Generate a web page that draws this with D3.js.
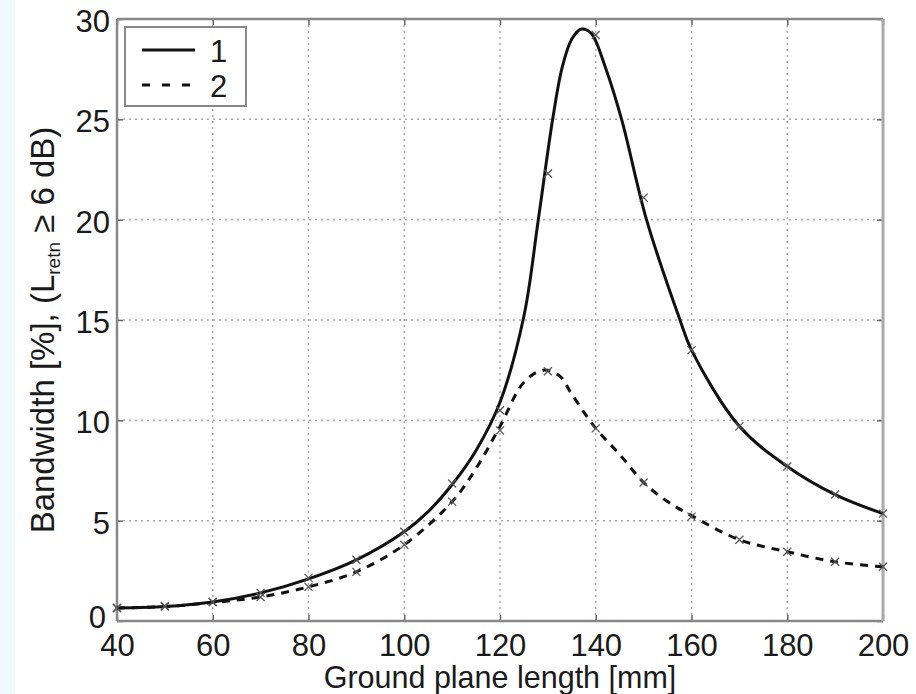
<!DOCTYPE html>
<html>
<head>
<meta charset="utf-8">
<script src="https://cdn.jsdelivr.net/npm/d3@7"></script>
<style>
  body { margin: 0; background: #fff; }
  svg { display: block; font-family: "Liberation Sans", Arial, sans-serif; }
</style>
</head>
<body>
<div id="container"></div>
<script>
// curve 1 (solid) and curve 2 (dashed)
const line1X = [40, 50, 60, 70, 80, 90, 100, 105, 110, 115, 120, 125, 128, 131, 133, 135, 137, 139, 142, 145.4, 150.6, 157.6, 160, 170, 180, 190, 200]
const line1Y = [0.65, 0.72, 0.95, 1.4, 2.1, 3.05, 4.45, 5.45, 6.8, 8.5, 10.9, 15.2, 20.0, 25.0, 27.6, 29.0, 29.5, 29.3, 27.6, 25.0, 20.0, 15.0, 13.5, 9.7, 7.7, 6.3, 5.35]
const line2X = [40, 50, 60, 70, 80, 90, 100, 110, 115, 120, 125, 129, 132.5, 135, 140, 145, 150, 155, 160, 170, 180, 190, 200]
const line2Y = [0.65, 0.72, 0.92, 1.2, 1.7, 2.45, 3.8, 5.95, 7.6, 9.7, 11.9, 12.5, 12.2, 11.3, 9.6, 8.3, 6.9, 5.95, 5.25, 4.05, 3.45, 2.95, 2.7]

// the x markers, every 10 mm
const markX = [40, 50, 60, 70, 80, 90, 100, 110, 120, 130, 140, 150, 160, 170, 180, 190, 200]
const mark1Y = [0.65, 0.72, 0.95, 1.4, 2.15, 3.05, 4.45, 6.85, 10.5, 22.3, 29.2, 21.1, 13.5, 9.7, 7.7, 6.3, 5.35]
const mark2Y = [0.65, 0.75, 0.95, 1.2, 1.7, 2.45, 3.8, 5.95, 9.5, 12.45, 9.6, 6.9, 5.2, 4.05, 3.45, 2.95, 2.7]

const xTicks = [40, 60, 80, 100, 120, 140, 160, 180, 200]
const yTicks = [0, 5, 10, 15, 20, 25, 30]
const legendLabels = ["1", "2"]

const W = 916, H = 694
const margin = { left: 117, right: 883, top: 19, bottom: 621 }

const x = d3.scaleLinear().domain([40, 200]).range([margin.left, margin.right])
const y = d3.scaleLinear().domain([0, 30]).range([margin.bottom, margin.top])

const svg = d3.select("#container").append("svg")
    .attr("width", W)
    .attr("height", H)

// pale strip on the left edge
svg.append("rect").attr("x", 0).attr("y", 0).attr("width", 15).attr("height", H).attr("fill", "#eefaff")

// grid
const grid = svg.append("g")
    .attr("stroke", "#aaa")
    .attr("stroke-width", 1.5)
    .attr("stroke-dasharray", "2,4")
grid.selectAll(".gx").data(xTicks.slice(1, -1)).join("line")
    .attr("x1", d => x(d)).attr("x2", d => x(d))
    .attr("y1", margin.top).attr("y2", margin.bottom)
grid.selectAll(".gy").data(yTicks.slice(1, -1)).join("line")
    .attr("x1", margin.left).attr("x2", margin.right)
    .attr("y1", d => y(d)).attr("y2", d => y(d))

// axes with inward ticks
const gxB = svg.append("g").attr("transform", `translate(0,${margin.bottom})`)
    .call(d3.axisBottom(x).tickValues(xTicks).tickSize(-6).tickPadding(13))
const gyL = svg.append("g").attr("transform", `translate(${margin.left},0)`)
    .call(d3.axisLeft(y).tickValues(yTicks).tickSize(-6).tickPadding(7))
const gxT = svg.append("g").attr("transform", `translate(0,${margin.top})`)
    .call(d3.axisTop(x).tickValues(xTicks).tickSize(-6).tickFormat(""))
const gyR = svg.append("g").attr("transform", `translate(${margin.right},0)`)
    .call(d3.axisRight(y).tickValues(yTicks).tickSize(-6).tickFormat(""))

for (const g of [gxB, gyL, gxT, gyR]) {
    g.select(".domain").remove()
    g.selectAll(".tick line").attr("stroke", "#666").attr("stroke-width", 1.5)
    g.selectAll("text").attr("font-size", 31).attr("fill", "#1a1a1a")
    g.attr("font-family", null).attr("font-size", null)
}
gyL.selectAll("text").attr("dy", "0.4em")
gyL.selectAll(".tick").filter(d => d === 0).select("text").attr("dy", "0.2em").attr("dx", -4)

// frame
const frame = [
    [margin.left, margin.top, margin.right, margin.top, "#888", 2.5],
    [margin.left, margin.bottom, margin.right, margin.bottom, "#888", 2.5],
    [margin.left, margin.top, margin.left, margin.bottom, "#888", 2.5],
    [margin.right, margin.top, margin.right, margin.bottom, "#aaa", 3]
]
svg.append("g").selectAll("line").data(frame).join("line")
    .attr("x1", d => d[0]).attr("y1", d => d[1])
    .attr("x2", d => d[2]).attr("y2", d => d[3])
    .attr("stroke", d => d[4]).attr("stroke-width", d => d[5])

// curves
const line = d3.line()
    .x(d => x(d[0]))
    .y(d => y(d[1]))
    .curve(d3.curveCatmullRom)

svg.append("path")
    .datum(line2X.map((d, i) => [d, line2Y[i]]))
    .attr("fill", "none")
    .attr("stroke", "#111")
    .attr("stroke-width", 3)
    .attr("stroke-dasharray", "8,7")
    .attr("d", line)

svg.append("path")
    .datum(line1X.map((d, i) => [d, line1Y[i]]))
    .attr("fill", "none")
    .attr("stroke", "#111")
    .attr("stroke-width", 3)
    .attr("d", line)

// x markers
const cross = d => {
    const cx = x(d[0]), cy = y(d[1]), r = 4
    return `M${cx - r},${cy - r}L${cx + r},${cy + r}M${cx - r},${cy + r}L${cx + r},${cy - r}`
}
svg.append("g")
    .attr("stroke", "#555")
    .attr("stroke-width", 1.3)
    .selectAll("path")
    .data(markX.map((d, i) => [d, mark1Y[i]]).concat(markX.map((d, i) => [d, mark2Y[i]])))
    .join("path")
    .attr("d", cross)

// legend
svg.append("rect")
    .attr("x", 125).attr("y", 27).attr("width", 121).attr("height", 79)
    .attr("fill", "#fff").attr("stroke", "#888").attr("stroke-width", 2)
const lg = svg.selectAll(".lg").data(legendLabels).join("g")
    .attr("transform", (d, i) => `translate(0,${50 + i * 35})`)
lg.append("line")
    .attr("x1", 142).attr("x2", 195)
    .attr("stroke", "#111").attr("stroke-width", 3)
    .attr("stroke-dasharray", (d, i) => i ? "8,12" : null)
lg.append("text")
    .attr("x", 210).attr("y", 12)
    .attr("font-size", 31).attr("fill", "#1a1a1a")
    .text(d => d)

// axis titles
svg.append("text")
    .attr("x", (margin.left + margin.right) / 2).attr("y", 688)
    .attr("text-anchor", "middle")
    .attr("font-size", 30.5).attr("fill", "#1a1a1a")
    .text("Ground plane length [mm]")

const yl = svg.append("text")
    .attr("transform", "translate(54,330) rotate(-90)")
    .attr("text-anchor", "middle")
    .attr("font-size", 33).attr("fill", "#1a1a1a")
yl.append("tspan").text("Bandwidth [%], (L")
yl.append("tspan").attr("font-size", 19).attr("dy", 6).text("retn")
yl.append("tspan").attr("dy", -6).text(" \u2265 6 dB)")
</script>
</body>
</html>
